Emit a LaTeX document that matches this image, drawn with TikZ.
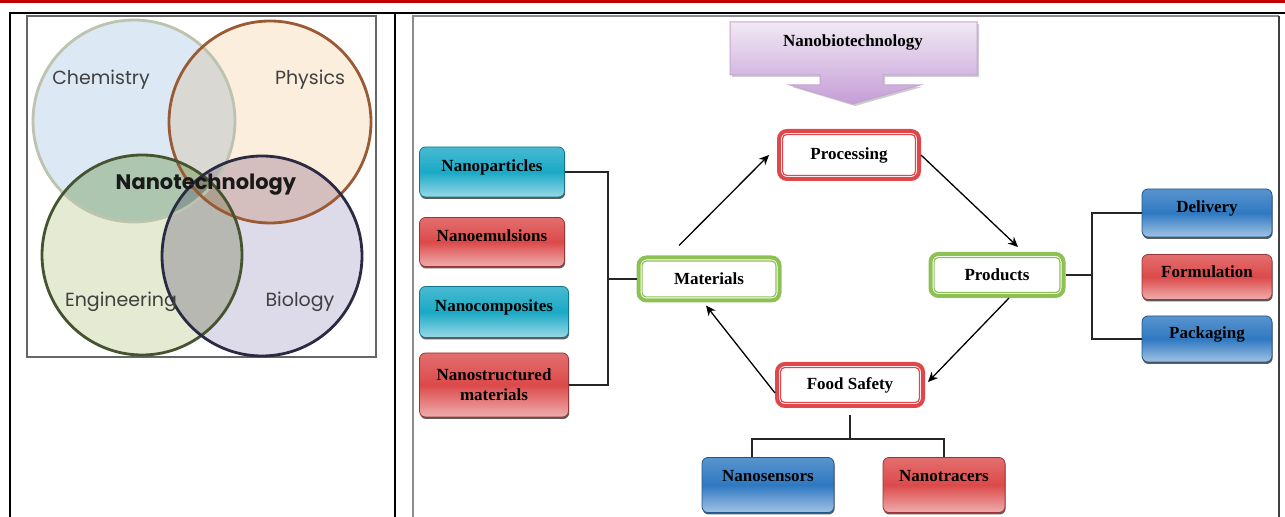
\documentclass[tikz,border=0pt]{standalone}
\usepackage{fontspec}
\setmainfont{Liberation Serif}
\newfontfamily\vennfont{Poppins}
\usepackage{xcolor}
\usepackage{tikz}
\usetikzlibrary{arrows.meta, positioning, calc, shadows}

\definecolor{bandred}{HTML}{C00000}
\definecolor{cyanbox}{HTML}{1AA9C6}
\definecolor{redbox}{HTML}{DC4A4A}
\definecolor{bluebox}{HTML}{2F79C2}
\definecolor{hubred}{HTML}{E0474B}
\definecolor{hubgreen}{HTML}{8DC153}
\definecolor{lilactop}{HTML}{F1E9F4}
\definecolor{lilacbot}{HTML}{C59DD7}
\definecolor{lilacedge}{HTML}{C2A6CF}
\definecolor{chemfill}{HTML}{DCE8F3}
\definecolor{physfill}{HTML}{FCEEDD}
\definecolor{engfill}{HTML}{E5EAD3}
\definecolor{biofill}{HTML}{DDDAEA}
\definecolor{chemline}{HTML}{BCC3AE}
\definecolor{physline}{HTML}{9A5A34}
\definecolor{engline}{HTML}{46532F}
\definecolor{bioline}{HTML}{2A2A42}

\begin{document}
\begin{tikzpicture}[x=0.5pt, y=-0.5pt,
		font=\bfseries\fontsize{8.5}{10}\selectfont,
		rule/.style={draw=black, line width=1pt},
		leaf/.style={draw=#1!70!black, line width=0.4pt, rounded corners=3pt,
			top color=#1!80!white, bottom color=#1!45!white, middle color=#1,
			drop shadow={shadow xshift=0.3pt, shadow yshift=-1pt, fill=black!80, opacity=0.8},
			align=center, inner sep=1pt, text depth=6pt},
		hub/.style={draw=#1, line width=0.6pt, rounded corners=2pt, fill=white,
			outer sep=2.8pt, inner sep=1pt,
			append after command={\pgfextra{\draw[#1, line width=2pt, rounded corners=4pt]
					([shift={(1pt,1pt)}]\tikzlastnode.south west) rectangle
					([shift={(-1pt,-1pt)}]\tikzlastnode.north east);}}},
		link/.style={draw=black!85, line width=0.6pt},
		flow/.style={draw=black, line width=0.65pt, -{Stealth[length=5pt, width=4.5pt]}},
		vennlabel/.style={font=\vennfont\fontsize{9.5}{11}\selectfont, text=black!75}]
		
		\useasboundingbox (0,0) rectangle (1285,517);
		
		% Table rules
		\fill[bandred] (0,0) rectangle (1285,3.5);
		\draw[rule] (9,13) -- (1285,13);
		\draw[rule] (10,13) -- (10,517);
		\draw[rule] (395,13) -- (395,517);
		\draw[draw=black!45, line width=1pt] (413,517) -- (413,16) -- (1279,16);
		\draw[draw=black!75, line width=1pt] (1279,16) -- (1279,517);
		
		% Venn diagram
		\draw[draw=black!60, line width=0.7pt] (27,16) rectangle (376,357);
		\begin{scope}[blend group=multiply]
			\fill[chemfill] (134,121) circle (50.5pt);
			\fill[physfill] (270,122) circle (50.5pt);
			\fill[engfill] (142,255) circle (50pt);
			\fill[biofill] (262,256) circle (50pt);
		\end{scope}
		% darker overlaps
		\begin{scope}
			\clip (142,255) circle (50pt);
			\fill[black!60!green, opacity=0.12] (134,121) circle (50.5pt);
			\fill[black, opacity=0.08] (262,256) circle (50pt);
		\end{scope}
		\begin{scope}
			\clip (270,122) circle (50.5pt);
			\fill[red!50!black, opacity=0.06] (262,256) circle (50pt);
		\end{scope}
		\draw[chemline, line width=1.4pt] (134,121) circle (50.5pt);
		\draw[physline, line width=1.4pt] (270,122) circle (50.5pt);
		\draw[engline, line width=1.4pt] (142,255) circle (50pt);
		\draw[bioline, line width=1.4pt] (262,256) circle (50pt);
		\node[vennlabel] (chem) at (101,80) {Chemistry};
		\node[vennlabel] (phys) at (310,80) {Physics};
		\node[vennlabel] (eng) at (121,302) {Engineering};
		\node[vennlabel] (bio) at (300,302) {Biology};
		\node[vennlabel, font=\vennfont\bfseries\fontsize{10.5}{13}\selectfont, text=black!90] (nano) at (206,185) {Nanotechnology};
		
		% Nanobiotechnology arrow
		\draw[draw=lilacedge, line width=0.5pt, top color=lilactop, bottom color=lilacbot,
		drop shadow={shadow xshift=1pt, shadow yshift=-1pt, fill=black!40, opacity=0.5}]
		(730,22) -- (977,22) -- (977,75) -- (883,75) -- (883,85) -- (920,85) -- (853,104)
		-- (790,85) -- (820,85) -- (820,75) -- (730,75) -- cycle;
		\node (nbt) at (853,42) {Nanobiotechnology};
		
		% Hubs
		\node[hub=hubred, minimum width=66.4pt, minimum height=20.4pt] (proc) at (849,155) {Processing};
		\node[hub=hubgreen, minimum width=66.9pt, minimum height=17.9pt] (mat) at (709,279) {Materials};
		\node[hub=hubgreen, minimum width=62.9pt, minimum height=17.4pt] (prod) at (997,275) {Products};
		\node[hub=hubred, minimum width=69.4pt, minimum height=17.4pt] (fs) at (850,385) {Food Safety};
		
		% Left leaves
		\node[leaf=cyanbox, minimum width=72.5pt, minimum height=25pt] (np) at (492,172) {Nanoparticles};
		\node[leaf=redbox, minimum width=72.5pt, minimum height=24.5pt] (ne) at (492,242) {Nanoemulsions};
		\node[leaf=cyanbox, minimum width=74.5pt, minimum height=25.5pt] (nc) at (494,312) {Nanocomposites};
		\node[leaf=redbox, minimum width=74.5pt, minimum height=32pt, text depth=] (ns) at (494,385) {Nanostructured\\materials};
		
		% Right leaves
		\node[leaf=bluebox, minimum width=65pt, minimum height=24pt] (del) at (1207,213) {Delivery};
		\node[leaf=redbox, minimum width=65pt, minimum height=22.5pt, text depth=5pt] (form) at (1207,277) {Formulation};
		\node[leaf=bluebox, minimum width=65pt, minimum height=23pt] (pack) at (1207,339) {Packaging};
		
		% Bottom leaves
		\node[leaf=bluebox, minimum width=66pt, minimum height=27.5pt, text depth=9pt] (sens) at (768,485) {Nanosensors};
		\node[leaf=redbox, minimum width=61pt, minimum height=27.5pt, text depth=9pt] (trac) at (944,485) {Nanotracers};
		
		% Brackets
		\coordinate (lj) at (608,279);
		\coordinate (rj) at (1092,275);
		\coordinate (fj) at (850,439);
		\draw[link] (np.east) -| (lj) |- (ns.east);
		\draw[link] (mat.west) -- (lj);
		\draw[link] (prod.east) -- (rj);
		\draw[link] (del.west) -| (rj) |- (pack.west);
		\draw[link, shorten <=3.5pt] (fs.south) -- (fj);
		\draw[link] ([xshift=-8]sens.north) |- (fj) -| (trac.north);
		
		% Cycle
		\draw[flow] ([shift={(-30,-10)}]mat.north) -- ([xshift=-4]proc.west);
		\draw[flow] (proc.east) -- ([shift={(21,-5)}]prod.north);
		\draw[flow] ([xshift=6]prod.south) -- ([shift={(3,-3)}]fs.east);
		\draw[flow] ([yshift=-4]fs.west) -- ([shift={(-3,3)}]mat.south);
	\end{tikzpicture}
\end{document}
